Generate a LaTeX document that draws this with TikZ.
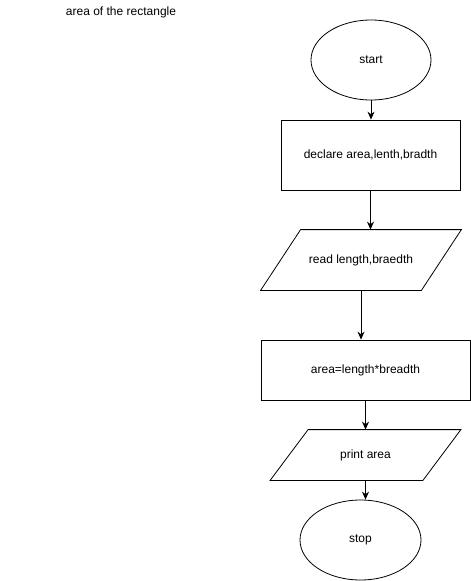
\documentclass[tikz,border=0pt]{standalone}
\usepackage{fontspec}
\setmainfont{Liberation Sans}
\usetikzlibrary{shapes.geometric,arrows.meta}
\begin{document}
\begin{tikzpicture}[x=1pt,y=-1pt,
  font=\fontsize{12}{14}\selectfont,
  line width=0.8pt,
  terminal/.style={ellipse,draw,minimum width=120pt,minimum height=80pt,inner sep=0pt},
  procbox/.style={rectangle,draw,inner sep=0pt},
  iobox/.style={rectangle,inner sep=0pt},
  flow/.style={-{Stealth[length=8pt,width=7pt]}}]
\useasboundingbox[fill=white] (0,0) rectangle (471,581);

\node (title) at (121,12) {area of the rectangle};

\node[terminal] (start) at (371,60) {start};
\node[procbox,minimum width=179pt,minimum height=70pt] (decl) at (370.5,155) {declare area,lenth,bradth};
\node[iobox,minimum width=160pt,minimum height=60pt] (read) at (361,260) {read length,braedth};
\draw ([xshift=20pt]read.north west) -- ([xshift=20pt]read.north east)
   -- ([xshift=-20pt]read.south east) -- ([xshift=-20pt]read.south west) -- cycle;
\node[procbox,minimum width=209pt,minimum height=60pt] (calc) at (365.5,370) {area=length*breadth};
\node[iobox,minimum width=152pt,minimum height=50pt] (print) at (365.5,455) {print area};
\draw ([xshift=19pt]print.north west) -- ([xshift=19pt]print.north east)
   -- ([xshift=-19pt]print.south east) -- ([xshift=-19pt]print.south west) -- cycle;
\node[terminal,minimum width=121pt] (stop) at (360.5,540) {stop};

\draw[flow] (start.south) -- (start.south |- decl.north);
\draw[flow] (decl.south) -- (decl.south |- read.north);
\draw[flow] (read.south) -- (read.south |- calc.north);
\draw[flow] (calc.south) -- (calc.south |- print.north);
\draw[flow] (print.south) -- (print.south |- stop.north);
\end{tikzpicture}
\end{document}
